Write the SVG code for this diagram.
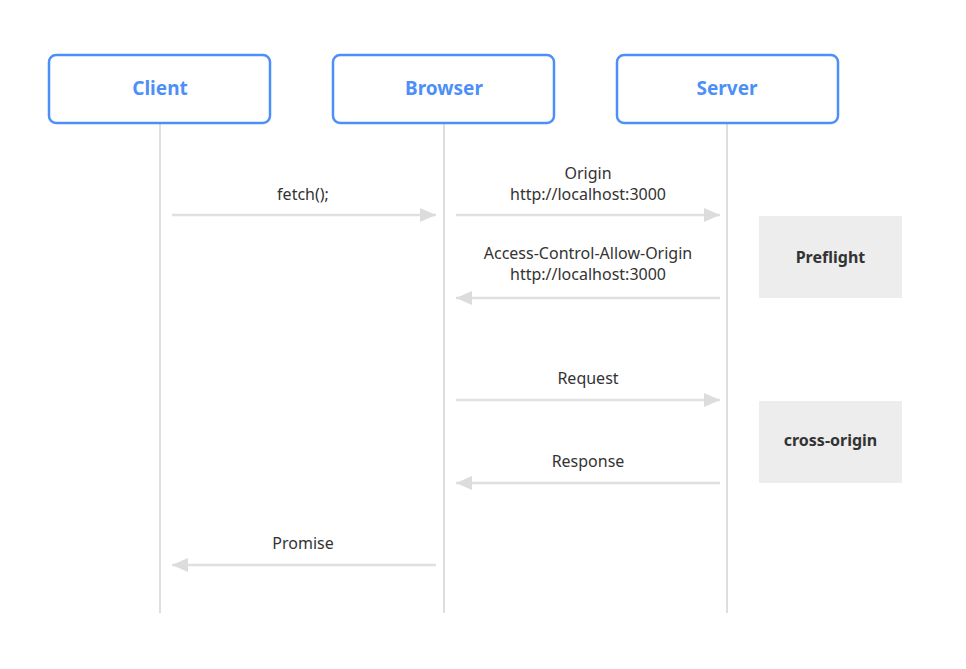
<svg xmlns="http://www.w3.org/2000/svg" width="966" height="669" viewBox="0 0 966 669">
<defs>
<marker id="ah" viewBox="0 0 16 14" refX="16" refY="7" markerWidth="16" markerHeight="14" markerUnits="userSpaceOnUse" orient="auto">
<path d="M0,0 L16,7 L0,14 Z" fill="#dcdcdc"/>
</marker>
<style>
.actor rect{fill:#fff;stroke:#4d8ff8;stroke-width:2.5}
.actor text{font-family:"Noto Sans","Liberation Sans",sans-serif;font-size:19px;font-weight:bold;fill:#4d8ff8;text-anchor:middle}
.life{stroke:#dedede;stroke-width:2}
.msg{stroke:#e0e0e0;stroke-width:2.5;fill:none;marker-end:url(#ah)}
.lbl{font-family:"Noto Sans","Liberation Sans",sans-serif;font-size:16px;fill:#333;text-anchor:middle}
.note rect{fill:#ededed}
.note text{font-family:"Noto Sans","Liberation Sans",sans-serif;font-size:16px;font-weight:bold;fill:#333;text-anchor:middle}
</style>
</defs>
<rect width="966" height="669" fill="#fff"/>
<g id="lifelines">
<line class="life" x1="160" y1="123" x2="160" y2="613"/>
<line class="life" x1="444" y1="123" x2="444" y2="613"/>
<line class="life" x1="727" y1="123" x2="727" y2="613"/>
</g>
<g id="client" class="actor"><rect x="49" y="55" width="221" height="68" rx="7"/><text x="160" y="95">Client</text></g>
<g id="browser" class="actor"><rect x="333" y="55" width="221" height="68" rx="7"/><text x="444" y="95">Browser</text></g>
<g id="server" class="actor"><rect x="617" y="55" width="221" height="68" rx="7"/><text x="727" y="95">Server</text></g>
<g id="preflight" class="note"><rect x="759" y="216" width="143" height="82"/><text x="830.500" y="263">Preflight</text></g>
<g id="crossorigin" class="note"><rect x="759" y="401" width="143" height="82"/><text x="830.500" y="446">cross-origin</text></g>
<g id="connectors">
<line class="msg" x1="172" y1="215" x2="436" y2="215"/>
<line class="msg" x1="456" y1="215" x2="720" y2="215"/>
<line class="msg" x1="720" y1="298" x2="456" y2="298"/>
<line class="msg" x1="456" y1="400" x2="720" y2="400"/>
<line class="msg" x1="720" y1="483" x2="456" y2="483"/>
<line class="msg" x1="436" y1="565" x2="172" y2="565"/>
</g>
<g id="labels">
<text class="lbl" x="303" y="200">fetch();</text>
<text class="lbl" x="588" y="179">Origin</text>
<text class="lbl" x="588" y="200">http://localhost:3000</text>
<text class="lbl" x="588" y="259">Access-Control-Allow-Origin</text>
<text class="lbl" x="588" y="280">http://localhost:3000</text>
<text class="lbl" x="588" y="384">Request</text>
<text class="lbl" x="588" y="467">Response</text>
<text class="lbl" x="303" y="549">Promise</text>
</g>
</svg>
